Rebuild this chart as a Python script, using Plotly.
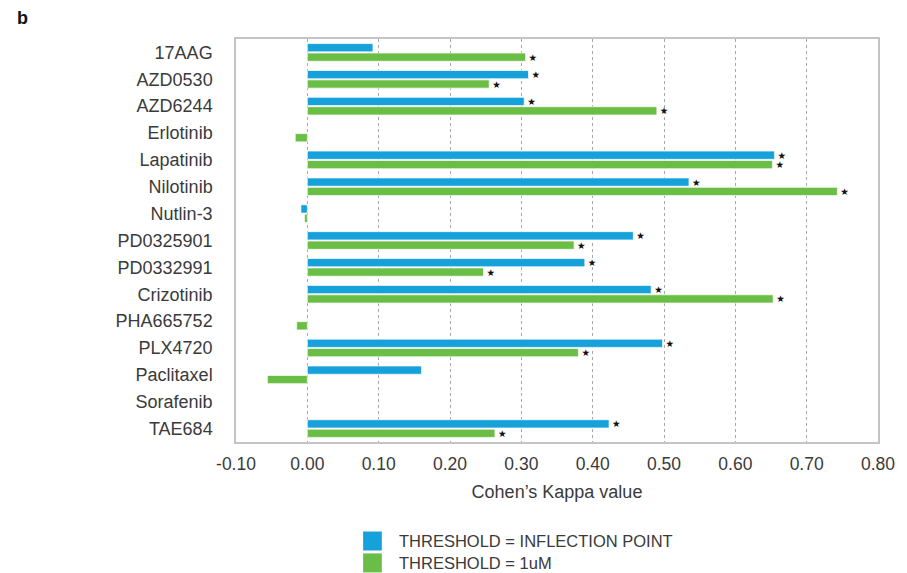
import plotly.graph_objects as go

drugs = ["17AAG", "AZD0530", "AZD6244", "Erlotinib", "Lapatinib", "Nilotinib",
         "Nutlin-3", "PD0325901", "PD0332991", "Crizotinib", "PHA665752",
         "PLX4720", "Paclitaxel", "Sorafenib", "TAE684"]

kappa_inflection = [0.092, 0.310, 0.304, None, 0.655, 0.535, -0.009, 0.457,
                    0.389, 0.482, None, 0.498, 0.160, None, 0.423]
kappa_1um = [0.306, 0.255, 0.490, -0.017, 0.652, 0.743, -0.004, 0.374,
             0.247, 0.653, -0.015, 0.380, -0.056, None, 0.263]

sig_inflection = [False, True, True, False, True, True, False, True,
                  True, True, False, True, False, False, True]
sig_1um = [True, True, True, False, True, True, False, True,
           True, True, False, True, False, False, True]

x_ticks = [-0.10, 0.00, 0.10, 0.20, 0.30, 0.40, 0.50, 0.60, 0.70, 0.80]
x_tick_labels = ["%.2f" % v for v in x_ticks]

series_names = ["THRESHOLD = INFLECTION POINT", "THRESHOLD = 1uM"]
colors = ["#17A1DB", "#6BBE45"]

FONT = "Liberation Sans, Arial, Helvetica, sans-serif"
TXT = "#3a3a3a"

fig = go.Figure()
for vals, sig, name, col in [(kappa_inflection, sig_inflection, series_names[0], colors[0]),
                             (kappa_1um, sig_1um, series_names[1], colors[1])]:
    fig.add_trace(go.Bar(
        y=drugs, x=vals, orientation="h", name=name,
        marker=dict(color=col, line=dict(color="rgba(255,255,255,0.7)", width=1)),
        text=["★" if s else "" for s in sig],
        textposition="outside", cliponaxis=False, constraintext="none",
        textfont=dict(size=9.5, color="#111", family="DejaVu Sans"),
        showlegend=False, hoverinfo="x+y",
    ))

fig.update_layout(
    width=907, height=573,
    margin=dict(l=236, r=19, t=39, b=131),
    paper_bgcolor="white", plot_bgcolor="white",
    barmode="group", bargap=0.3, bargroupgap=0.12,
    font=dict(family=FONT, color=TXT),
    xaxis=dict(
        range=[-0.10, 0.80], tickvals=x_ticks, ticktext=x_tick_labels,
        showgrid=True, gridcolor="#a8a8a8", griddash="dot", gridwidth=1,
        zeroline=False, showline=True, linecolor="#c4c4c4", linewidth=1.5,
        mirror=True, ticks="outside", ticklen=5, tickcolor="rgba(0,0,0,0)",
        tickfont=dict(size=17.5, color=TXT, family=FONT),
        title=dict(text="Cohen’s Kappa value", font=dict(size=18, color=TXT, family=FONT),
                   standoff=13),
    ),
    yaxis=dict(
        categoryorder="array", categoryarray=drugs,
        range=[14.5, -0.5], showgrid=False, zeroline=False,
        showline=True, linecolor="#c4c4c4", linewidth=1.5, mirror=True,
        ticks="outside", ticklen=18, tickcolor="rgba(0,0,0,0)",
        tickfont=dict(size=18, color=TXT, family=FONT),
    ),
)

# panel label
fig.add_annotation(text="<b>b</b>", xref="paper", yref="paper",
                   x=-0.345, y=1.052, xanchor="left", yanchor="middle",
                   showarrow=False, font=dict(size=18, color="#111", family=FONT))

# custom legend with large square swatches
legend_rows = [(-0.2457, colors[0], series_names[0]), (-0.300, colors[1], series_names[1])]
sq_w = 19 / 652
sq_h = 19 / 403
for yc, col, name in legend_rows:
    fig.add_shape(type="rect", xref="paper", yref="paper",
                  x0=0.198, x1=0.198 + sq_w, y0=yc - sq_h / 2, y1=yc + sq_h / 2,
                  fillcolor=col, line=dict(width=0))
    fig.add_annotation(text=name, xref="paper", yref="paper", x=0.25, y=yc,
                       xanchor="left", yanchor="middle", showarrow=False,
                       font=dict(size=16.5, color=TXT, family=FONT))

fig.write_html("out.html")
